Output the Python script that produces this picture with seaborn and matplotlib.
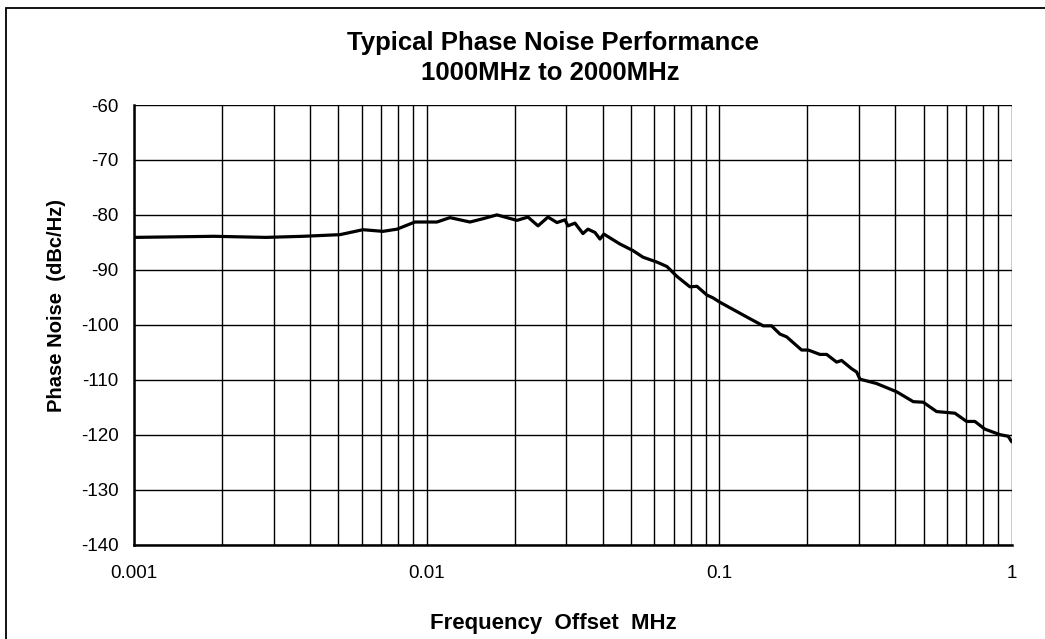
import numpy as np
import pandas as pd
import matplotlib
matplotlib.use("Agg")
import matplotlib.pyplot as plt
from matplotlib.patches import Rectangle
from matplotlib.ticker import FixedLocator, NullFormatter, LogLocator
import seaborn as sns

# ---- data ----
freq_mhz = [0.001, 0.001877, 0.002826, 0.003781, 0.005058, 0.006062, 0.007096, 0.007922,
            0.009128, 0.01085, 0.01202, 0.01407, 0.01559, 0.01740, 0.02036, 0.02221,
            0.02404, 0.02600, 0.02791, 0.02972, 0.03043, 0.03215, 0.03424, 0.03561,
            0.03763, 0.03914, 0.04037, 0.04580, 0.05075, 0.05491, 0.06131, 0.06631,
            0.07173, 0.07947, 0.08395, 0.09086, 0.09524, 0.1006, 0.1274, 0.1415,
            0.1511, 0.1614, 0.1701, 0.1914, 0.2016, 0.2211, 0.2331, 0.2521, 0.2622,
            0.2837, 0.2951, 0.3028, 0.3454, 0.4043, 0.4608, 0.4984, 0.5537, 0.6396,
            0.7014, 0.7485, 0.8097, 0.9114, 0.9727, 1.0]
phase_noise = [-84.1, -83.9, -84.1, -83.9, -83.6, -82.7, -83.0, -82.6,
               -81.3, -81.3, -80.5, -81.3, -80.7, -80.0, -81.0, -80.4,
               -82.0, -80.4, -81.4, -80.9, -82.0, -81.5, -83.4, -82.6,
               -83.2, -84.4, -83.5, -85.3, -86.5, -87.7, -88.6, -89.4,
               -91.2, -93.1, -93.0, -94.6, -95.1, -95.9, -98.9, -100.2,
               -100.2, -101.7, -102.2, -104.6, -104.6, -105.4, -105.4, -106.8, -106.5,
               -108.0, -108.6, -109.9, -110.7, -112.2, -114.0, -114.1, -115.8, -116.1,
               -117.6, -117.6, -119.0, -120.0, -120.3, -121.3]
y_ticks = [-140, -130, -120, -110, -100, -90, -80, -70, -60]
x_ticks = [0.001, 0.01, 0.1, 1]
x_tick_labels = ["0.001", "0.01", "0.1", "1"]

title_line1 = "Typical Phase Noise Performance"
title_line2 = "1000MHz to 2000MHz"
x_label = "Frequency  Offset  MHz"
y_label = "Phase Noise  (dBc/Hz)"

df = pd.DataFrame({"freq": freq_mhz, "pn": phase_noise})

sns.set_style("white")
plt.rcParams["font.family"] = ["Liberation Sans", "DejaVu Sans"]
plt.rcParams["text.color"] = "black"

W, H = 1045, 639
fig = plt.figure(figsize=(W / 100, H / 100), dpi=100)
ax = fig.add_axes([134 / W, 1 - 544.5 / H, (1011.7 - 134) / W, (544.5 - 105) / H])

sns.lineplot(data=df, x="freq", y="pn", ax=ax, color="black", linewidth=2.3,
             estimator=None, sort=False, solid_joinstyle="round",
             solid_capstyle="round")
ax.set_xscale("log")
ax.set_xlim(0.001, 1)
ax.set_ylim(-140, -60)

ax.set_yticks(y_ticks)
ax.set_yticklabels([str(v) for v in y_ticks])
ax.xaxis.set_major_locator(FixedLocator(x_ticks))
ax.set_xticklabels(x_tick_labels)
ax.xaxis.set_minor_locator(LogLocator(base=10, subs=np.arange(2, 10), numticks=20))
ax.xaxis.set_minor_formatter(NullFormatter())

ax.grid(True, which="major", axis="both", color="black", linewidth=1.0)
ax.grid(True, which="minor", axis="x", color="black", linewidth=1.0)
ax.set_axisbelow(True)

for s in ["top", "right"]:
    ax.spines[s].set_visible(False)
for s in ["left", "bottom"]:
    ax.spines[s].set_color("black")
    ax.spines[s].set_linewidth(1.8)

ax.tick_params(axis="both", which="major", direction="out", length=4, width=1,
               color="black", labelsize=13.5, labelcolor="black")
ax.tick_params(axis="x", which="minor", length=0)
ax.tick_params(axis="y", pad=7)
ax.tick_params(axis="x", pad=11)

ax.set_xlabel("")
ax.set_ylabel("")
fig.text(553 / W, 1 - 50 / H, title_line1, ha="center", va="baseline",
         fontsize=18.5, fontweight="bold", color="black")
fig.text(550 / W, 1 - 80 / H, title_line2, ha="center", va="baseline",
         fontsize=18.5, fontweight="bold", color="black")
fig.text(553 / W, 1 - 629 / H, x_label, ha="center", va="baseline",
         fontsize=16, fontweight="bold", color="black")
fig.text(56 / W, 1 - 306 / H, y_label, ha="center", va="center",
         fontsize=14.5, fontweight="bold", rotation=90, color="black")

fig.add_artist(Rectangle((6 / W, -0.1), 2.0, (H - 8) / H + 0.1,
                         transform=fig.transFigure, fill=False,
                         edgecolor="black", linewidth=1.3, clip_on=False))

fig.savefig("out.png", dpi=100, facecolor="white")
